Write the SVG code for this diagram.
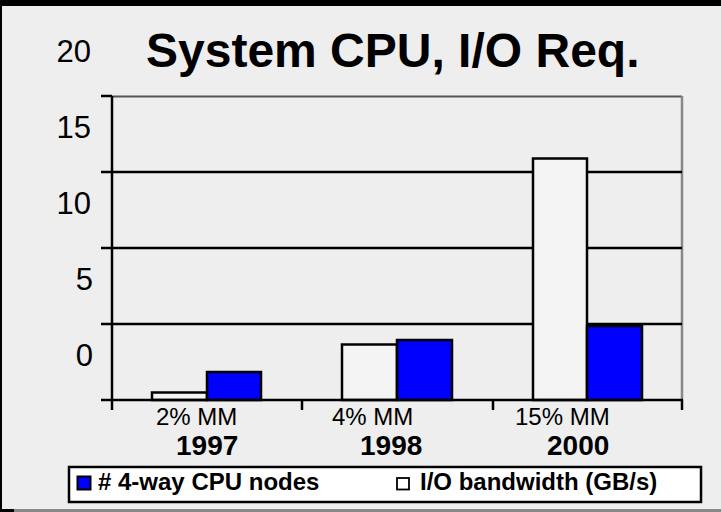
<svg xmlns="http://www.w3.org/2000/svg" width="721" height="512" viewBox="0 0 721 512">
<style>
.ax{font-family:"Liberation Sans",Arial,sans-serif;font-size:31px;fill:#000;text-anchor:end}
.cat{font-family:"Liberation Sans",Arial,sans-serif;font-size:24px;fill:#000}
.yr{font-family:"Liberation Sans",Arial,sans-serif;font-size:28px;font-weight:bold;fill:#000}
.lg{font-family:"Liberation Sans",Arial,sans-serif;font-size:24px;font-weight:bold;fill:#000}
.grid{stroke:#000;stroke-width:2.5;fill:none}
.wbar{fill:#f4f4f4;stroke:#000;stroke-width:2.5}
.bbar{fill:#0000ff;stroke:#000;stroke-width:2.5}
</style>
<rect x="0" y="0" width="721" height="512" fill="#eeeeee"/>
<rect x="0" y="0" width="721" height="6" fill="#000"/>
<rect x="0" y="0" width="2" height="512" fill="#000"/>
<rect x="14" y="509" width="707" height="3" fill="#888"/>
<rect x="0" y="509" width="14" height="3" fill="#000"/>

<g id="title"><text x="146" y="67" font-family="'Liberation Sans',Arial,sans-serif" font-size="48" font-weight="bold">System CPU, I/O Req.</text></g>

<g id="yaxis-labels">
<text class="ax" x="91" y="62">20</text>
<text class="ax" x="91" y="138">15</text>
<text class="ax" x="91" y="214">10</text>
<text class="ax" x="93" y="290">5</text>
<text class="ax" x="93" y="366">0</text>
</g>

<g id="plot-frame">
<line x1="112" y1="96.5" x2="682" y2="96.5" stroke="#555" stroke-width="2"/>
<line x1="682" y1="96" x2="682" y2="400" stroke="#888" stroke-width="2.5"/>
</g>

<g id="gridlines">
<line class="grid" x1="101" y1="96" x2="112" y2="96"/>
<line class="grid" x1="101" y1="172" x2="682" y2="172"/>
<line class="grid" x1="101" y1="248" x2="682" y2="248"/>
<line class="grid" x1="101" y1="324" x2="682" y2="324"/>
</g>

<g id="bars-1997">
<rect class="wbar" x="152" y="392.5" width="55" height="7.5"/>
<rect class="bbar" x="207" y="372" width="54" height="28"/>
</g>
<g id="bars-1998">
<rect class="wbar" x="342" y="344.5" width="55" height="55.5"/>
<rect class="bbar" x="397" y="340" width="55" height="60"/>
</g>
<g id="bars-2000">
<rect class="wbar" x="533" y="158.5" width="54" height="241.5"/>
<rect class="bbar" x="587" y="326" width="55" height="74"/>
</g>

<g id="axes">
<line class="grid" x1="112" y1="96" x2="112" y2="410"/>
<line class="grid" x1="101" y1="400" x2="683" y2="400"/>
<line class="grid" x1="302" y1="400" x2="302" y2="410"/>
<line class="grid" x1="493" y1="400" x2="493" y2="410"/>
<line class="grid" x1="682" y1="400" x2="682" y2="410"/>
</g>

<g id="category-labels">
<text class="cat" x="156" y="425">2% MM</text>
<text class="cat" x="332" y="425">4% MM</text>
<text class="cat" x="515" y="425">15% MM</text>
<text class="yr" x="176" y="455">1997</text>
<text class="yr" x="360" y="455">1998</text>
<text class="yr" x="547" y="455">2000</text>
</g>

<g id="legend">
<rect x="69" y="467" width="632" height="35" fill="#fff" stroke="#000" stroke-width="2.5"/>
<rect x="77.5" y="476.5" width="13" height="13" fill="#0000ff" stroke="#000" stroke-width="2"/>
<text class="lg" x="98" y="490"># 4-way CPU nodes</text>
<rect x="397" y="478" width="12" height="11.5" fill="#fff" stroke="#000" stroke-width="1.8"/>
<text class="lg" x="420" y="490">I/O bandwidth (GB/s)</text>
</g>
</svg>
